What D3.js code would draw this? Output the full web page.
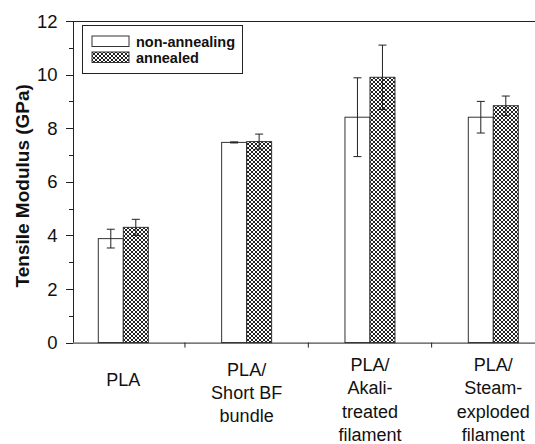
<!DOCTYPE html>
<html>
<head>
<meta charset="utf-8">
<script src="https://cdn.jsdelivr.net/npm/d3@7"></script>
<style>
  body { margin: 0; background: #fff; }
  text { font-family: "Liberation Sans", Arial, sans-serif; fill: #111; }
</style>
</head>
<body>
<div id="chart"></div>
<script>
// data
var categories = [["PLA"], ["PLA/", "Short BF", "bundle"], ["PLA/", "Akali-", "treated", "filament"], ["PLA/", "Steam-", "exploded", "filament"]]
var seriesNames = ["non-annealing", "annealed"]
var nonAnnealing = [3.88, 7.47, 8.41, 8.41]
var nonAnnealingErr = [0.35, 0.02, 1.47, 0.59]
var annealed = [4.30, 7.50, 9.90, 8.84]
var annealedErr = [0.30, 0.28, 1.20, 0.36]
var yTicks = [0, 2, 4, 6, 8, 10, 12]

var W = 535, H = 444
var margin = {top: 21, left: 73, bottom: 101, right: 0}

var svg = d3.select("#chart").append("svg")
  .attr("width", W).attr("height", H)

// crosshatch pattern for annealed bars
var pat = svg.append("defs").append("pattern")
  .attr("id", "hatch").attr("patternUnits", "userSpaceOnUse")
  .attr("width", 4).attr("height", 4)
pat.append("rect").attr("width", 4).attr("height", 4).attr("fill", "#fff")
pat.append("path").attr("d", "M0,0L4,4M4,0L0,4M-1,3L1,5M3,-1L5,1M3,5L5,3M-1,1L1,-1")
  .attr("stroke", "#222").attr("stroke-width", 1)

// group i is centred at x(i)
var x = d3.scaleLinear().domain([0, 3]).range([123.3, 493.3])
var y = d3.scaleLinear().domain([0, 12]).range([H - margin.bottom - 0.4, margin.top])
var barW = 25

var data = categories.map(function(c, i) {
  return {i: i, a: nonAnnealing[i], ae: nonAnnealingErr[i], b: annealed[i], be: annealedErr[i]}
})

// bars
var g = svg.append("g")
g.selectAll("rect.non").data(data).join("rect")
  .attr("class", "non")
  .attr("x", d => x(d.i) - barW).attr("width", barW)
  .attr("y", d => y(d.a)).attr("height", d => y(0) - y(d.a))
  .attr("fill", "#fff").attr("stroke", "#333").attr("stroke-width", 1)
g.selectAll("rect.ann").data(data).join("rect")
  .attr("class", "ann")
  .attr("x", d => x(d.i)).attr("width", barW)
  .attr("y", d => y(d.b)).attr("height", d => y(0) - y(d.b))
  .attr("fill", "url(#hatch)").attr("stroke", "#333").attr("stroke-width", 1)

// error bars
function errBars(cls, off, val, err) {
  var e = g.selectAll("g." + cls).data(data).join("g").attr("class", cls)
    .attr("stroke", "#222").attr("stroke-width", 1)
  e.append("line")
    .attr("x1", d => x(d.i) + off).attr("x2", d => x(d.i) + off)
    .attr("y1", d => y(val(d) + err(d))).attr("y2", d => y(val(d) - err(d)))
  e.append("line")
    .attr("x1", d => x(d.i) + off - 4).attr("x2", d => x(d.i) + off + 4)
    .attr("y1", d => y(val(d) + err(d))).attr("y2", d => y(val(d) + err(d)))
  e.append("line")
    .attr("x1", d => x(d.i) + off - 4).attr("x2", d => x(d.i) + off + 4)
    .attr("y1", d => y(val(d) - err(d))).attr("y2", d => y(val(d) - err(d)))
}
errBars("errA", -barW / 2, d => d.a, d => d.ae)
errBars("errB", barW / 2, d => d.b, d => d.be)

// axes
var axisG = svg.append("g").attr("stroke", "#222").attr("stroke-width", 1)
axisG.append("line").attr("x1", margin.left + 0.5).attr("x2", margin.left + 0.5)
  .attr("y1", y(12)).attr("y2", y(0))
axisG.append("line").attr("x1", margin.left).attr("x2", W)
  .attr("y1", y(0) + 0.5).attr("y2", y(0) + 0.5)
axisG.append("line").attr("x1", margin.left).attr("x2", W)
  .attr("y1", y(12) + 0.5).attr("y2", y(12) + 0.5)

axisG.selectAll("line.major").data(yTicks).join("line").attr("class", "major")
  .attr("x1", margin.left - 7).attr("x2", margin.left)
  .attr("y1", d => Math.round(y(d)) + 0.5).attr("y2", d => Math.round(y(d)) + 0.5)
axisG.selectAll("line.minor").data(d3.range(1, 12, 2)).join("line").attr("class", "minor")
  .attr("x1", margin.left - 4).attr("x2", margin.left)
  .attr("y1", d => Math.round(y(d)) + 0.5).attr("y2", d => Math.round(y(d)) + 0.5)
axisG.selectAll("line.xt").data([0.5, 1.5, 2.5]).join("line").attr("class", "xt")
  .attr("x1", d => x(d)).attr("x2", d => x(d))
  .attr("y1", y(0)).attr("y2", y(0) + 5)

svg.selectAll("text.yt").data(yTicks).join("text").attr("class", "yt")
  .attr("x", 57.5).attr("y", d => y(d))
  .attr("text-anchor", "end").attr("dominant-baseline", "central")
  .style("font-size", "18.5px")
  .text(d => d)

svg.append("text")
  .attr("transform", "translate(22," + ((y(0) + y(12)) / 2 + 4) + ") rotate(-90)")
  .attr("text-anchor", "middle").attr("dominant-baseline", "central")
  .style("font-size", "19px").style("font-weight", "bold")
  .text("Tensile Modulus (GPa)")

// category labels
categories.forEach(function(lines, i) {
  var top = 384.5 - 4.9 * lines.length
  var t = svg.append("text").attr("text-anchor", "middle").style("font-size", "18px")
  lines.forEach(function(s, k) {
    t.append("tspan").attr("x", x(i)).attr("y", top + k * 23.3)
      .attr("dominant-baseline", "central").text(s)
  })
})

// legend
var lg = svg.append("g")
lg.append("rect").attr("x", 82.5).attr("y", 25.5).attr("width", 160).attr("height", 48)
  .attr("fill", "#fff").attr("stroke", "#222")
seriesNames.forEach(function(s, k) {
  lg.append("rect").attr("x", 92).attr("y", 36 + k * 16).attr("width", 37).attr("height", 10.5)
    .attr("fill", k == 0 ? "#fff" : "url(#hatch)").attr("stroke", "#333")
  lg.append("text").attr("x", 136).attr("y", 41.5 + k * 16)
    .attr("dominant-baseline", "central")
    .style("font-size", "14.5px").style("font-weight", "bold").text(s)
})
</script>
</body>
</html>
